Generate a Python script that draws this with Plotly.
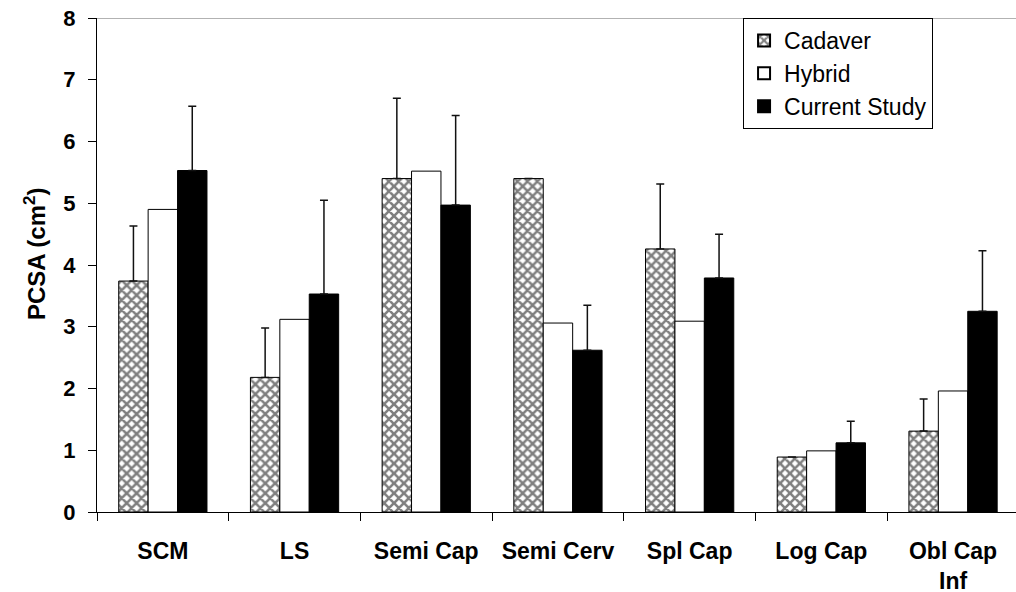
import plotly.graph_objects as go

categories = ["SCM", "LS", "Semi Cap", "Semi Cerv", "Spl Cap", "Log Cap", "Obl Cap<br>Inf"]
cadaver = [3.74, 2.18, 5.40, 5.40, 4.26, 0.89, 1.31]
cadaver_upper = [4.63, 2.98, 6.70, None, 5.31, None, 1.83]
hybrid = [4.90, 3.12, 5.52, 3.06, 3.09, 0.99, 1.96]
current = [5.53, 3.53, 4.97, 2.62, 3.79, 1.12, 3.25]
current_upper = [6.57, 5.05, 6.42, 3.35, 4.50, 1.47, 4.23]
y_ticks = [0, 1, 2, 3, 4, 5, 6, 7, 8]


def plus_err(vals, uppers):
    return [(u - v) if u is not None else None for v, u in zip(vals, uppers)]


FONT = "Liberation Sans, Arial, sans-serif"
err_style = dict(type="data", symmetric=False, color="#111", thickness=1.5, width=4)

fig = go.Figure()
fig.add_trace(go.Bar(
    name="Cadaver", x=categories, y=cadaver, legendgroup="a",
    marker=dict(color="white", line=dict(color="black", width=1),
                pattern=dict(shape="x", fgcolor="black", bgcolor="white", size=7, solidity=0.6)),
    error_y=dict(array=plus_err(cadaver, cadaver_upper), arrayminus=[0] * len(cadaver), **err_style),
))
fig.add_trace(go.Bar(
    name="Hybrid", x=categories, y=hybrid, legendgroup="b",
    marker=dict(color="white", line=dict(color="black", width=1)),
))
fig.add_trace(go.Bar(
    name="Current Study", x=categories, y=current, legendgroup="c",
    marker=dict(color="black", line=dict(color="black", width=1)),
    error_y=dict(array=plus_err(current, current_upper), arrayminus=[0] * len(current), **err_style),
))

fig.add_shape(type="line", xref="paper", yref="y", x0=0, x1=1, y0=8, y1=8,
              line=dict(color="#999", width=1.5), layer="above")

fig.add_annotation(text="PCSA (cm<sup>2</sup>)", xref="paper", yref="paper",
                   x=-0.0675, y=0.522, xanchor="center", yanchor="middle",
                   textangle=-90, showarrow=False,
                   font=dict(size=24, family=FONT, weight="bold", color="black"))

fig.update_layout(
    width=1016, height=592,
    margin=dict(l=97, r=0, t=18, b=80),
    paper_bgcolor="white", plot_bgcolor="white",
    barmode="group", bargap=0.33, bargroupgap=0,
    font=dict(family=FONT, color="black"),
    showlegend=True,
    legend=dict(x=0.703, y=1, xanchor="left", yanchor="top",
                bordercolor="black", borderwidth=1, bgcolor="white",
                font=dict(size=23, family=FONT), tracegroupgap=0,
                itemsizing="constant"),
    xaxis=dict(range=[-0.5, 6.478], showline=True, linecolor="black", linewidth=1,
               ticks="outside", tickson="boundaries", ticklen=8, tickcolor="black",
               tickfont=dict(size=23, family=FONT, weight="bold"),
               ticklabelstandoff=18, automargin=False, ticklabeloverflow="allow",
               showgrid=False, zeroline=False, fixedrange=True),
    yaxis=dict(range=[0, 8], tickvals=y_ticks, showline=True, linecolor="black", linewidth=1,
               ticks="outside", ticklen=8, tickcolor="black",
               tickfont=dict(size=22, family=FONT, weight="bold"),
               ticklabelstandoff=8, automargin=False, ticklabeloverflow="allow",
               showgrid=False, zeroline=False),
)

# remove the browser's default 8px body margin so the figure fills the window exactly
fig.write_html("out.html",
               config={"displayModeBar": False},
               post_script="document.body.style.margin='0';document.body.style.overflow='hidden';")
